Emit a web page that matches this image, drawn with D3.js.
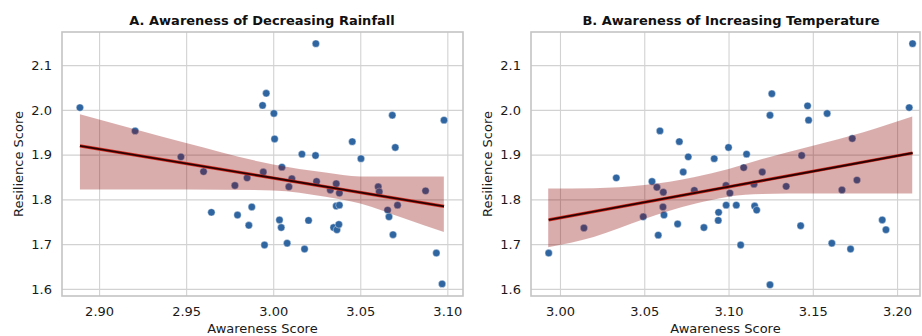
<!DOCTYPE html>
<html lang="en">

<head>
    <meta charset="UTF-8">
    <title>Awareness vs Resilience</title>
    <script src="https://d3js.org/d3.v7.min.js"></script>
    <style>
        body { margin: 0; background: #fff; }
        svg { font-family: "DejaVu Sans", sans-serif; }
    </style>
</head>

<body>
    <svg id="chart" width="922" height="336"></svg>

    <script>
        // resilience score of each respondent (same people in both panels)
        const rainAwareness = [2.889, 2.9207, 2.947, 2.960, 2.9645, 2.978, 2.9795, 2.985, 2.986, 2.9877,
            2.9939, 2.996, 2.9943, 2.995, 3.0004, 3.0008, 3.005, 3.0036, 3.0046, 3.0107,
            3.009, 3.008, 3.0165, 3.018, 3.0203, 3.0245, 3.0243, 3.0249, 3.0328, 3.0362,
            3.038, 3.0362, 3.038, 3.0347, 3.0366, 3.0377, 3.0454, 3.0504, 3.0603, 3.0609,
            3.0657, 3.0665, 3.0684, 3.0701, 3.0714, 3.0688, 3.0875, 3.0937, 3.097, 3.0981];
        const rainResilience = [2.005, 1.953, 1.895, 1.862, 1.771, 1.831, 1.765, 1.848, 1.742, 1.783,
            2.010, 2.037, 1.861, 1.698, 1.992, 1.935, 1.872, 1.754, 1.737, 1.846,
            1.828, 1.702, 1.901, 1.689, 1.753, 2.148, 1.898, 1.840, 1.821, 1.835,
            1.814, 1.785, 1.787, 1.737, 1.732, 1.744, 1.929, 1.891, 1.828, 1.817,
            1.776, 1.761, 1.988, 1.916, 1.787, 1.721, 1.819, 1.680, 1.611, 1.977];

        const tempAwareness = [2.9933, 3.0142, 3.0334, 3.0494, 3.0546, 3.0575, 3.0583, 3.0593, 3.0613, 3.0611,
            3.0617, 3.0698, 3.0708, 3.0731, 3.0761, 3.0797, 3.0854, 3.0915, 3.0941, 3.0939,
            3.0985, 3.0986, 3.1000, 3.1008, 3.1046, 3.1072, 3.109, 3.1107, 3.1151, 3.1155,
            3.1167, 3.120, 3.1246, 3.1257, 3.1246, 3.1342, 3.1428, 3.1434, 3.1469, 3.1475,
            3.1585, 3.1613, 3.1673, 3.1724, 3.1734, 3.1762, 3.1912, 3.1934, 3.2072, 3.2092];
        const tempResilience = [1.680, 1.736, 1.848, 1.761, 1.840, 1.827, 1.720, 1.953, 1.816, 1.783,
            1.765, 1.745, 1.929, 1.861, 1.895, 1.820, 1.737, 1.891, 1.771, 1.753,
            1.831, 1.787, 1.916, 1.814, 1.787, 1.698, 1.871, 1.901, 1.834, 1.785,
            1.776, 1.861, 1.988, 2.036, 1.609, 1.829, 1.741, 1.898, 2.009, 1.977,
            1.992, 1.702, 1.821, 1.689, 1.936, 1.843, 1.754, 1.732, 2.005, 2.148];

        // confidence band
        const rainBandX = [2.889, 2.95, 3.00, 3.03, 3.05, 3.075, 3.098];
        const rainBandHi = [1.990, 1.926, 1.878, 1.860, 1.851, 1.851, 1.851];
        const rainBandLo = [1.822, 1.822, 1.820, 1.806, 1.791, 1.758, 1.727];

        const tempBandX = [2.993, 3.02, 3.05, 3.08, 3.10, 3.12, 3.15, 3.18, 3.209];
        const tempBandHi = [1.824, 1.825, 1.832, 1.850, 1.868, 1.890, 1.920, 1.950, 1.985];
        const tempBandLo = [1.693, 1.716, 1.756, 1.790, 1.806, 1.812, 1.813, 1.813, 1.813];

        const rainTicks = [2.90, 2.95, 3.00, 3.05, 3.10];
        const tempTicks = [3.00, 3.05, 3.10, 3.15, 3.20];
        const yTicks = [1.6, 1.7, 1.8, 1.9, 2.0, 2.1];

        const svg = d3.select("#chart");

        function fit(xs, ys) {
            const mx = d3.mean(xs), my = d3.mean(ys);
            let sxy = 0, sxx = 0;
            xs.forEach((x, i) => { sxy += (x - mx) * (ys[i] - my); sxx += (x - mx) * (x - mx); });
            const b = sxy / sxx;
            return x => my + b * (x - mx);
        }

        function panel(opt) {
            const x = d3.scaleLinear().domain(opt.xDomain).range(opt.xRange);
            const y = d3.scaleLinear().domain([1.584, 2.174]).range([296, 32]);
            const g = svg.append("g");
            const top = 32, bottom = 296, left = opt.xRange[0], right = opt.xRange[1];

            // grid
            g.append("g")
                .attr("transform", `translate(0,${bottom})`)
                .call(d3.axisBottom(x).tickValues(opt.xTicks).tickSize(-(bottom - top)).tickFormat(""))
                .call(a => a.select(".domain").remove())
                .call(a => a.selectAll("line").attr("stroke", "#d2d2d2").attr("stroke-width", 1.1));
            g.append("g")
                .attr("transform", `translate(${left},0)`)
                .call(d3.axisLeft(y).tickValues(yTicks).tickSize(-(right - left)).tickFormat(""))
                .call(a => a.select(".domain").remove())
                .call(a => a.selectAll("line").attr("stroke", "#d2d2d2").attr("stroke-width", 1.1));

            // tick labels
            g.append("g")
                .attr("transform", `translate(0,${bottom})`)
                .call(d3.axisBottom(x).tickValues(opt.xTicks).tickSize(0).tickPadding(11).tickFormat(d3.format(".2f")))
                .call(a => a.select(".domain").remove())
                .call(a => a.selectAll("text").attr("font-size", 13).attr("fill", "#1a1a1a")
                    .attr("font-family", "DejaVu Sans"));
            g.append("g")
                .attr("transform", `translate(${left},0)`)
                .call(d3.axisLeft(y).tickValues(yTicks).tickSize(0).tickPadding(10).tickFormat(d3.format(".1f")))
                .call(a => a.select(".domain").remove())
                .call(a => a.selectAll("text").attr("font-size", 13).attr("fill", "#1a1a1a")
                    .attr("font-family", "DejaVu Sans"));

            // points
            g.append("g").selectAll("circle")
                .data(opt.xs)
                .join("circle")
                .attr("cx", d => x(d))
                .attr("cy", (d, i) => y(opt.ys[i]))
                .attr("r", 3.7)
                .attr("fill", "#2f65a0")
                .attr("stroke", "#fff")
                .attr("stroke-width", 0.4);

            // confidence band
            const band = d3.area()
                .x(d => x(d))
                .y0((d, i) => y(opt.lo[i]))
                .y1((d, i) => y(opt.hi[i]))
                .curve(d3.curveMonotoneX);
            g.append("path")
                .attr("d", band(opt.bandX))
                .attr("fill", "#8b0000")
                .attr("opacity", 0.32);

            // regression line
            const f = fit(opt.xs, opt.ys);
            const ext = d3.extent(opt.xs);
            const line = d3.line().x(d => x(d)).y(d => y(f(d)));
            g.append("path").attr("d", line(ext))
                .attr("stroke", "#d42a1e").attr("stroke-width", 3.2).attr("fill", "none");
            g.append("path").attr("d", line(ext))
                .attr("stroke", "#2a0404").attr("stroke-width", 1.9).attr("fill", "none");

            // frame
            g.append("rect")
                .attr("x", left).attr("y", top)
                .attr("width", right - left).attr("height", bottom - top)
                .attr("fill", "none").attr("stroke", "#c4c4c4").attr("stroke-width", 1.6);

            // titles
            g.append("text")
                .attr("x", opt.titleX).attr("y", 25)
                .attr("text-anchor", "middle")
                .attr("font-size", 13).attr("font-weight", "bold").attr("fill", "#111")
                .text(opt.title);
            g.append("text")
                .attr("x", (left + right) / 2).attr("y", 333)
                .attr("text-anchor", "middle")
                .attr("font-size", 13).attr("fill", "#1a1a1a")
                .text("Awareness Score");
            g.append("text")
                .attr("transform", `translate(${opt.yLabelX},164) rotate(-90)`)
                .attr("text-anchor", "middle")
                .attr("font-size", 13).attr("fill", "#1a1a1a")
                .text("Resilience Score");
        }

        panel({
            xs: rainAwareness, ys: rainResilience,
            bandX: rainBandX, hi: rainBandHi, lo: rainBandLo,
            xDomain: [2.8787, 3.109], xRange: [62, 463], xTicks: rainTicks,
            title: "A. Awareness of Decreasing Rainfall", titleX: 262, yLabelX: 23
        });
        panel({
            xs: tempAwareness, ys: tempResilience,
            bandX: tempBandX, hi: tempBandHi, lo: tempBandLo,
            xDomain: [2.9828, 3.2136], xRange: [531, 920], xTicks: tempTicks,
            title: "B. Awareness of Increasing Temperature", titleX: 731, yLabelX: 492
        });
    </script>
</body>

</html>
